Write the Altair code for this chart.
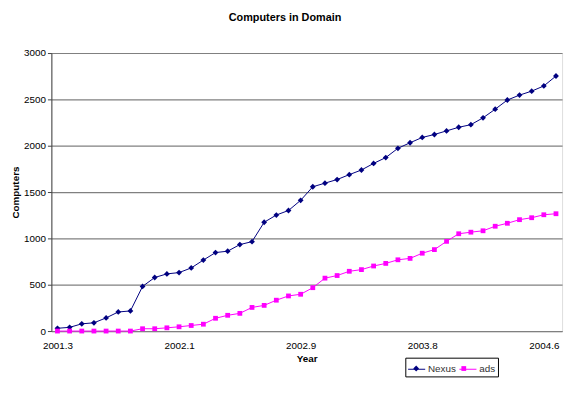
import altair as alt
import pandas as pd

chart_title = "Computers in Domain"
series_names = ["Nexus", "ads"]
series_colors = ["#000080", "#FF00FF"]
# small marker paths (diamond, square) drawn in Vega's unit symbol space
series_shapes = ["M0,-0.34L0.34,0L0,0.34L-0.34,0Z", "M-0.28,-0.28H0.28V0.28H-0.28Z"]

nexus = [30, 40, 78, 89, 142, 206, 217, 482, 578, 617, 631, 681, 766, 847, 862,
         933, 965, 1174, 1252, 1301, 1411, 1557, 1596, 1635, 1688, 1738, 1809,
         1872, 1972, 2032, 2089, 2121, 2160, 2199, 2227, 2301, 2394, 2493, 2546,
         2589, 2645, 2752]
ads = [0, 0, 0, 0, 0, 0, 0, 25, 25, 35, 46, 60, 74, 138, 170, 191, 255, 277,
       333, 379, 397, 468, 571, 599, 645, 663, 702, 730, 769, 784, 840, 879, 968,
       1050, 1067, 1082, 1131, 1163, 1202, 1223, 1255, 1266]

tick_index = [0, 10, 20, 30, 40]
tick_labels = ["2001.3", "2002.1", "2002.9", "2003.8", "2004.6"]
y_ticks = [0, 500, 1000, 1500, 2000, 2500, 3000]

rows = []
for i, (n, a) in enumerate(zip(nexus, ads)):
    rows.append({"idx": i, "series": series_names[0], "value": n})
    rows.append({"idx": i, "series": series_names[1], "value": a})
df = pd.DataFrame(rows)

label_expr = " : ".join(f"datum.value == {i} ? '{l}'" for i, l in zip(tick_index, tick_labels)) + " : ''"

FONT = "Liberation Sans"

x_enc = alt.X(
    "idx:Q",
    scale=alt.Scale(domain=[-0.5, len(nexus) - 0.5], nice=False, zero=False),
    axis=alt.Axis(values=tick_index, labelExpr=label_expr, title="Year", grid=False,
                  ticks=False, domainColor="#808080", labelPadding=10, titlePadding=3,
                  labelFont=FONT, labelFontSize=10, labelColor="black",
                  titleFont=FONT, titleFontSize=10, titleFontWeight="bold", titleColor="black"),
)
y_enc = alt.Y(
    "value:Q",
    scale=alt.Scale(domain=[0, 3000], nice=False),
    axis=alt.Axis(values=y_ticks, format="d", title="Computers", grid=True,
                  gridColor="#808080", gridWidth=1.2, tickSize=4, tickColor="#404040",
                  domainColor="#404040", labelPadding=2, titlePadding=3,
                  labelFont=FONT, labelFontSize=10, labelColor="black",
                  titleFont=FONT, titleFontSize=10, titleFontWeight="bold", titleColor="black"),
)

LX, LY = 359, 309
SYM = 300
NEXUS_LABEL_W = 28.3  # width of the first legend label, to keep the marker legend aligned

line_legend = alt.Legend(orient="none", legendX=LX, legendY=LY, direction="horizontal",
                         title=None, symbolType="stroke", symbolSize=SYM, symbolStrokeWidth=1,
                         strokeColor="black", padding=2,
                         labelFont=FONT, labelFontSize=10, labelColor="#333333",
                         labelOffset=2, columnPadding=0)
pt_legend = alt.Legend(orient="none", legendX=LX, legendY=LY, direction="horizontal",
                       title=None, symbolSize=SYM, symbolStrokeWidth=0,
                       padding=2, labelFont=FONT, labelFontSize=10, labelExpr="''",
                       labelOffset=2, columnPadding=NEXUS_LABEL_W)

lines = alt.Chart(df).mark_line(strokeWidth=1).encode(
    x=x_enc, y=y_enc,
    color=alt.Color("series:N", scale=alt.Scale(domain=series_names, range=series_colors),
                    legend=line_legend),
)
points = alt.Chart(df).mark_point(filled=True, size=SYM, opacity=1, strokeWidth=0).encode(
    x=x_enc, y=y_enc,
    color=alt.Color("series:N", scale=alt.Scale(domain=series_names, range=series_colors),
                    legend=pt_legend),
    shape=alt.Shape("series:N", scale=alt.Scale(domain=series_names, range=series_shapes),
                    legend=pt_legend),
)

chart = alt.layer(lines, points).resolve_scale(
    color="independent", shape="independent"
).properties(
    width=518, height=282,
    title=alt.TitleParams(chart_title, font=FONT, fontSize=11, fontWeight="bold",
                          color="black", anchor="middle", offset=26, dx=-22),
    autosize=alt.AutoSizeParams(type="none"),
    padding={"left": 44, "top": 43, "right": 5, "bottom": 50},
).configure_view(stroke="#a0a0a0", strokeWidth=1).configure(background="white")

chart.save("out.html", embed_options={"renderer": "svg", "actions": False})
